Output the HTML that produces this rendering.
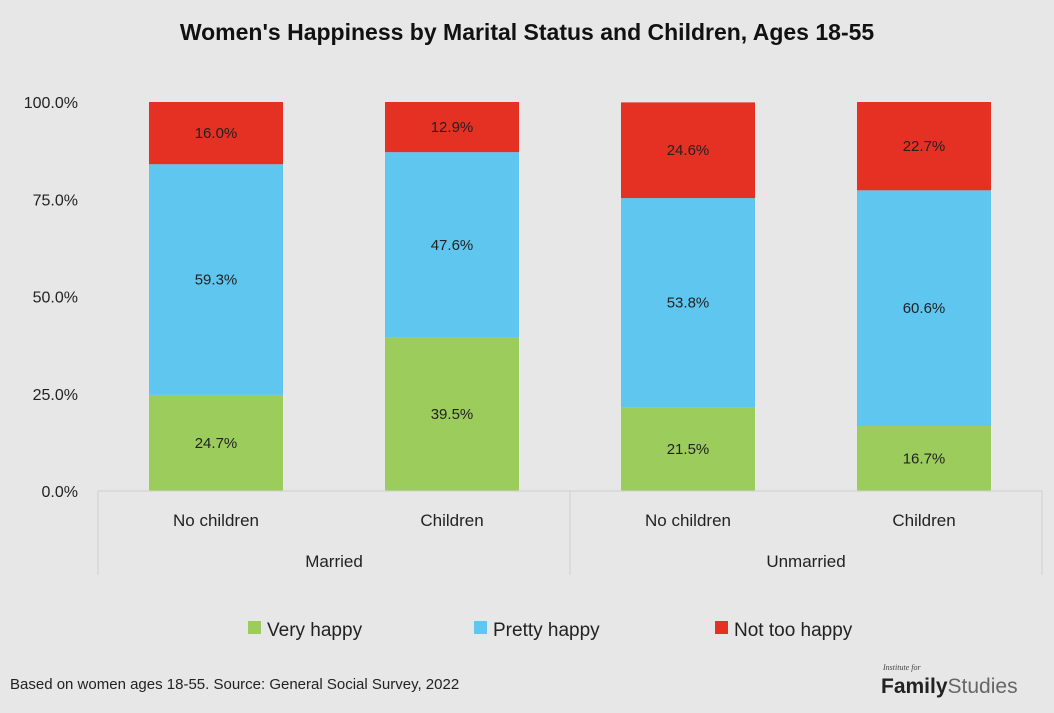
<!DOCTYPE html>
<html><head><meta charset="utf-8">
<style>
html,body{margin:0;padding:0;background:#e7e7e7;}
body{width:1054px;height:708px;overflow:hidden;font-family:"Liberation Sans",sans-serif;}
</style></head>
<body>
<svg id="chart" width="1054" height="708" xmlns="http://www.w3.org/2000/svg" style="font-family:'Liberation Sans',sans-serif">
<rect width="1054" height="708" fill="#e7e7e7"/>
<text x="527" y="40" text-anchor="middle" font-size="23" font-weight="bold" fill="#111">Women's Happiness by Marital Status and Children, Ages 18-55</text>
<g id="bars"></g>
<g id="axis"></g>
<g>
<rect x="248" y="621" width="13" height="13" fill="#9bcc5c"/>
<text x="267" y="636" font-size="19" fill="#222">Very happy</text>
<rect x="474" y="621" width="13" height="13" fill="#5fc6f0"/>
<text x="493" y="636" font-size="19" fill="#222">Pretty happy</text>
<rect x="715" y="621" width="13" height="13" fill="#e53124"/>
<text x="734" y="636" font-size="19" fill="#222">Not too happy</text>
</g>
<text x="10" y="689" font-size="15" fill="#222">Based on women ages 18-55. Source: General Social Survey, 2022</text>
<g>
<text x="883" y="670" font-size="8" font-style="italic" font-family="Liberation Serif,serif" fill="#444">Institute for</text>
<text x="881" y="693" font-size="21" font-weight="bold" fill="#222">Family<tspan font-weight="normal" fill="#666">Studies</tspan></text>
</g>
</svg>
<script>
const categories = ["No children","Children","No children","Children"];
const groups = ["Married","Unmarried"];
const veryHappy = [24.7, 39.5, 21.5, 16.7];
const prettyHappy = [59.3, 47.6, 53.8, 60.6];
const notTooHappy = [16.0, 12.9, 24.6, 22.7];
const yTicks = [0, 25, 50, 75, 100];

const NS = "http://www.w3.org/2000/svg";
const plotL = 98, plotR = 1042, yTop = 102, yBot = 491;
const step = (plotR - plotL) / categories.length;
const barW = 134;
function y(v){ return yBot - (v/100)*(yBot - yTop); }
function xc(i){ return plotL + step*(i+0.5); }
function mk(tag, attrs, parent){ const e=document.createElementNS(NS,tag); for(const k in attrs) e.setAttribute(k,attrs[k]); parent.appendChild(e); return e; }

const bars = document.getElementById('bars');
const axis = document.getElementById('axis');
const series = [
  {vals: veryHappy, color:"#9bcc5c", name:"very-happy"},
  {vals: prettyHappy, color:"#5fc6f0", name:"pretty-happy"},
  {vals: notTooHappy, color:"#e53124", name:"not-too-happy"}
];
categories.forEach((c,i)=>{
  let base = 0;
  series.forEach(s=>{
    const v = s.vals[i];
    const r = mk('rect',{x:xc(i)-barW/2, y:y(base+v), width:barW, height:y(base)-y(base+v), fill:s.color}, bars);
    
    
    const t = mk('text',{x:xc(i), y:(y(base)+y(base+v))/2+5, 'text-anchor':'middle','font-size':15, fill:'#222'}, bars);
    t.textContent = v.toFixed(1) + '%';
    
    
    base += v;
  });
});
yTicks.forEach(v=>{
  const t = mk('text',{x:78, y:y(v)+6, 'text-anchor':'end','font-size':16, fill:'#222'}, axis);
  t.textContent = v.toFixed(1) + '%';
  
  
});
const al = mk('line',{x1:plotL, x2:plotR, y1:yBot, y2:yBot, stroke:'#cfcfcf','stroke-width':1}, axis);


[0, 2, 4].forEach(k=>{
  const l = mk('line',{x1:plotL+step*k, x2:plotL+step*k, y1:yBot, y2:575, stroke:'#cfcfcf','stroke-width':1}, axis);
  
  
});
categories.forEach((c,i)=>{
  const t = mk('text',{x:xc(i), y:526, 'text-anchor':'middle','font-size':17, fill:'#222'}, axis);
  t.textContent = c;
  
  
});
groups.forEach((g,k)=>{
  const t = mk('text',{x:plotL+step*(2*k+1), y:567, 'text-anchor':'middle','font-size':17, fill:'#222'}, axis);
  t.textContent = g;
  
  
});
</script>
</body></html>
